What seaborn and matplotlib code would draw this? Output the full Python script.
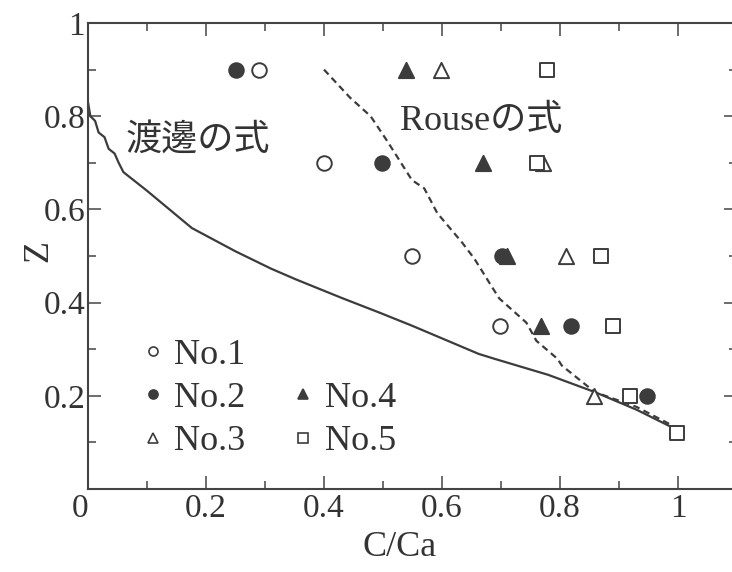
import matplotlib
matplotlib.use("Agg")
import matplotlib.pyplot as plt
from matplotlib.lines import Line2D
import seaborn as sns
import pandas as pd

# Data
watanabe_x = [0.0, 0.004, 0.012, 0.018, 0.028, 0.035, 0.045, 0.052, 0.06, 0.1, 0.176,
              0.25, 0.31, 0.352, 0.43, 0.493, 0.55, 0.662, 0.69, 0.78, 0.859, 0.93, 1.0]
watanabe_z = [0.83, 0.80, 0.79, 0.765, 0.755, 0.73, 0.72, 0.70, 0.68, 0.64, 0.56,
              0.51, 0.473, 0.45, 0.41, 0.379, 0.35, 0.29, 0.279, 0.245, 0.208, 0.17, 0.126]

rouse_x = [0.40, 0.444, 0.479, 0.507, 0.521, 0.549, 0.57, 0.592, 0.606, 0.634, 0.655,
           0.683, 0.697, 0.743, 0.76, 0.796, 0.803, 0.859, 0.93, 1.0]
rouse_z = [0.90, 0.84, 0.80, 0.747, 0.719, 0.663, 0.645, 0.592, 0.571, 0.529, 0.494,
           0.437, 0.409, 0.357, 0.318, 0.279, 0.265, 0.208, 0.176, 0.13]

no1_x = [0.29, 0.40, 0.549, 0.699]
no1_z = [0.9, 0.7, 0.5, 0.35]
no2_x = [0.25, 0.499, 0.701, 0.819, 0.947]
no2_z = [0.9, 0.7, 0.5, 0.35, 0.2]
no3_x = [0.599, 0.771, 0.81, 0.857]
no3_z = [0.9, 0.7, 0.5, 0.2]
no4_x = [0.539, 0.669, 0.711, 0.768]
no4_z = [0.9, 0.7, 0.5, 0.35]
no5_x = [0.778, 0.761, 0.87, 0.889, 0.919, 0.998]
no5_z = [0.9, 0.7, 0.5, 0.35, 0.2, 0.12]

series_names = ["No.1", "No.2", "No.3", "No.4", "No.5"]
x_ticks = [0, 0.2, 0.4, 0.6, 0.8, 1]
x_tick_labels = ["0", "0.2", "0.4", "0.6", "0.8", "1"]
y_ticks = [0, 0.2, 0.4, 0.6, 0.8, 1]
y_tick_labels = ["", "0.2", "0.4", "0.6", "0.8", "1"]

sns.set_theme(style="ticks")
plt.rcParams["font.family"] = ["Liberation Serif", "Noto Sans CJK JP"]

dark = "#3c3c3c"
edge = "#444444"

fig = plt.figure(figsize=(7.32, 5.72), dpi=100)
ax = fig.add_axes([88 / 732, 1 - 489 / 572, 649 / 732, 466 / 572])

# curves
curves = pd.DataFrame({"x": watanabe_x, "z": watanabe_z})
sns.lineplot(data=curves, x="x", y="z", sort=False, estimator=None,
             color=dark, linewidth=1.6, ax=ax)
rouse = pd.DataFrame({"x": rouse_x, "z": rouse_z})
sns.lineplot(data=rouse, x="x", y="z", sort=False, estimator=None,
             color=dark, linewidth=1.6, ax=ax)
ax.lines[-1].set_dashes((3, 2))

# points
styles = {
    "No.1": dict(marker="o", facecolor="white", s=110),
    "No.2": dict(marker="o", facecolor=dark, s=110),
    "No.3": dict(marker="^", facecolor="white", s=120),
    "No.4": dict(marker="^", facecolor=dark, s=120),
    "No.5": dict(marker="s", facecolor="white", s=100),
}
points = [(no1_x, no1_z), (no2_x, no2_z), (no3_x, no3_z), (no4_x, no4_z), (no5_x, no5_z)]
for name, (px, pz) in zip(series_names, points):
    st = styles[name]
    sns.scatterplot(x=px, y=pz, marker=st["marker"], s=st["s"],
                    facecolor=st["facecolor"], edgecolor=dark, linewidth=1.4,
                    zorder=5, ax=ax)

ax.set_xlim(0, 1.1)
ax.set_ylim(0, 1)
ax.set_xticks(x_ticks)
ax.set_xticklabels(x_tick_labels)
ax.set_yticks(y_ticks)
ax.set_yticklabels(y_tick_labels)
ax.set_xticks([0.1, 0.3, 0.5, 0.7, 0.9], minor=True)
ax.set_yticks([0.1, 0.3, 0.5, 0.7, 0.9], minor=True)
ax.tick_params(which="both", direction="in", top=True, right=True,
               colors=edge, labelcolor="#333333", width=1.1)
ax.tick_params(which="major", length=9.5, labelsize=24)
ax.tick_params(which="minor", length=5.5)
ax.tick_params(axis="x", pad=3)
ax.tick_params(axis="y", pad=2)
ax.get_xticklabels()[0].set_ha("right")
for sp in ax.spines.values():
    sp.set_color(edge)
    sp.set_linewidth(1.5)

ax.set_xlabel("C/Ca", fontsize=26, color="#333333")
ax.xaxis.set_label_coords((400 - 88) / 649, -0.09)
ax.set_ylabel("Z", fontsize=26, color="#333333")
ax.yaxis.set_label_coords(-0.05, 0.51)

ax.text(0.529, 0.788, "Rouseの式", fontsize=26, color="#333333", va="center")
ax.text(0.063, 0.745, "渡邊の式", fontsize=26, color="#333333", va="center")

# legend: two columns, first column No.1-No.3, second blank/No.4/No.5
def handle(name):
    st = styles[name]
    return Line2D([], [], linestyle="none", marker=st["marker"], markersize=6.5,
                  markerfacecolor=st["facecolor"], markeredgecolor=dark,
                  markeredgewidth=1.2)

blank = Line2D([], [], linestyle="none")
handles = [handle("No.1"), handle("No.2"), handle("No.3"),
           blank, handle("No.4"), handle("No.5")]
labels = ["No.1", "No.2", "No.3", "", "No.4", "No.5"]
leg = ax.legend(handles, labels, ncol=2, loc="upper left",
                bbox_to_anchor=(0.055, 0.362), frameon=False, fontsize=26,
                handlelength=0.6, handletextpad=0.3, columnspacing=1.3,
                labelspacing=0.28, borderpad=0, labelcolor="#333333")

fig.savefig("out.png", dpi=100)
